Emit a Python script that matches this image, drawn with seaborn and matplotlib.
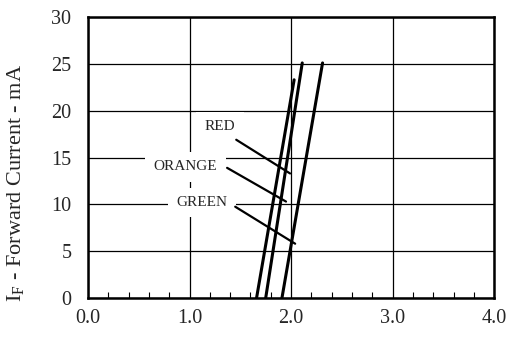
import pandas as pd
import seaborn as sns
import matplotlib.pyplot as plt
from matplotlib.ticker import MultipleLocator

# forward voltage (V) vs forward current (mA) for each LED colour
red_v = [1.66, 2.03]
red_i = [0, 23.3]
orange_v = [1.75, 2.11]
orange_i = [0, 25.1]
green_v = [1.91, 2.31]
green_i = [0, 25.1]

# label text, text position, leader start, leader end (data units)
labels = ["RED", "ORANGE", "GREEN"]
label_pos = [(1.30, 18.3), (0.96, 14.0), (1.12, 10.2)]
leader_start = [(1.46, 16.9), (1.37, 13.9), (1.45, 9.75)]
leader_end = [(1.99, 13.3), (1.95, 10.3), (2.04, 5.8)]

df = pd.concat([
    pd.DataFrame({"V": red_v, "I": red_i, "led": "RED"}),
    pd.DataFrame({"V": orange_v, "I": orange_i, "led": "ORANGE"}),
    pd.DataFrame({"V": green_v, "I": green_i, "led": "GREEN"}),
])

sns.set_style("white")
plt.rcParams["font.family"] = ["Liberation Serif", "DejaVu Serif"]
plt.rcParams["mathtext.fontset"] = "custom"
plt.rcParams["mathtext.rm"] = "Liberation Serif"

fig = plt.figure(figsize=(5.1, 3.41), dpi=100)
ax = fig.add_axes([0.1725, 0.126, 0.7965, 0.824])

sns.lineplot(data=df, x="V", y="I", hue="led", units="led", estimator=None,
             palette=["black"] * 3, linewidth=2.2, legend=False, sort=False, ax=ax)

ax.set_xlim(0, 4)
ax.set_ylim(0, 30)
ax.xaxis.set_major_locator(MultipleLocator(1))
ax.xaxis.set_minor_locator(MultipleLocator(0.2))
ax.yaxis.set_major_locator(MultipleLocator(5))
ax.xaxis.set_major_formatter(plt.FuncFormatter(lambda v, p: f"{v:.1f}"))
ax.tick_params(axis="both", which="major", length=0, labelsize=14.5, pad=8)
ax.tick_params(axis="y", pad=12)
ax.tick_params(axis="x", which="minor", direction="in", length=4, width=0.8,
               bottom=True, color="black")
ax.grid(True, which="major", color="black", linewidth=0.9)
ax.set_axisbelow(True)
for s in ax.spines.values():
    s.set_color("black")
    s.set_linewidth(1.8)

ax.set_xlabel("")
ax.set_ylabel(r"I$_\mathrm{F}$ - Forward Current - mA", fontsize=16)
ax.yaxis.set_label_coords(-0.150, 0.41)

for txt, pos, st, en in zip(labels, label_pos, leader_start, leader_end):
    ax.text(pos[0], pos[1], txt, fontsize=11, ha="center", va="center",
            bbox=dict(facecolor="white", edgecolor="none", pad=6), zorder=3)
    ax.plot([st[0], en[0]], [st[1], en[1]], color="black", linewidth=1.6, zorder=4)

fig.savefig("out.png", dpi=100)
